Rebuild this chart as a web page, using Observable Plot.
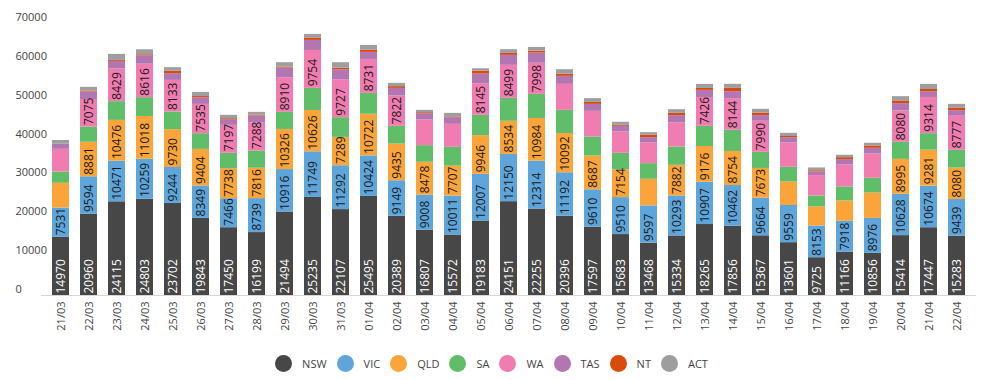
<!DOCTYPE html>
<html><head><meta charset="utf-8">
<script src="https://cdn.jsdelivr.net/npm/d3@7"></script>
<script src="https://cdn.jsdelivr.net/npm/@observablehq/plot@0.6"></script>
<style>
body{margin:0;background:#fff;font-family:"Open Sans",sans-serif;}
#legend{display:flex;justify-content:center;align-items:center;height:36px;font-size:11px;color:#444;padding-right:10px;box-sizing:border-box;width:993px}
.item{display:flex;align-items:center;margin:0 5px}
.dot{width:17px;height:17px;border-radius:50%;margin-right:10px}
</style></head><body><div id="chart"></div><div id="legend"></div>
<script>
const dates = ["21/03","22/03","23/03","24/03","25/03","26/03","27/03","28/03","29/03","30/03","31/03","01/04","02/04","03/04","04/04","05/04","06/04","07/04","08/04","09/04","10/04","11/04","12/04","13/04","14/04","15/04","16/04","17/04","18/04","19/04","20/04","21/04","22/04"];
const states = ["NSW","VIC","QLD","SA","WA","TAS","NT","ACT"];
const colors = ["#474747","#5DA5DA","#FAA43A","#60BD68","#F17CB0","#B276B2","#DA4A0E","#9E9E9E"];
const nsw = [14970,20960,24115,24803,23702,19843,17450,16199,21494,25235,22107,25495,20389,16807,15572,19183,24151,22255,20396,17597,15683,13468,15334,18265,17856,15367,13601,9725,11166,10856,15414,17447,15283];
const vic = [7531,9594,10471,10259,9244,8349,7466,8739,10916,11749,11292,10424,9149,9008,10011,12007,12150,12314,11192,9610,9510,9597,10293,10907,10462,9664,9559,8153,7918,8976,10628,10674,9439];
const qld = [6380,8881,10476,11018,9730,9404,7738,7816,10326,10626,7289,10722,9435,8478,7707,9946,8534,10984,10092,8687,7154,6840,7882,9176,8754,7673,6060,4920,5260,6560,8995,9281,8080];
const sa  = [2910,3930,4820,4830,4550,4050,3940,4440,4400,5700,5080,5380,4560,4270,4850,5230,5900,6210,5970,4900,4250,4030,4710,5190,5440,4150,3770,2830,3600,3770,4390,4250,4560];
const wa  = [5830,7075,8429,8616,8133,7535,7197,7288,8910,9754,9727,8731,7822,6600,5910,8145,8499,7998,6690,6600,5490,5310,6170,7426,8144,7990,6260,5230,5660,6260,8080,9314,8777];
const tas = [1290,1930,1940,2180,1720,1720,1460,1710,2490,2590,2610,1810,1950,1630,1710,2480,2560,2630,2060,1800,1460,1370,1890,1830,1800,1440,1370,940,1370,1460,1860,1400,1420];
const nt  = [30,250,250,250,650,300,250,250,250,600,400,550,450,250,200,750,500,500,550,500,250,600,600,500,850,650,300,300,500,600,700,650,700];
const act = [950,950,1550,1290,890,1070,860,690,1120,940,1400,1250,840,610,910,620,960,960,1160,960,780,690,940,1040,1040,980,810,730,610,690,1100,1320,930];
const yTicks = [0,10000,20000,30000,40000,50000,60000,70000];

const series = [nsw,vic,qld,sa,wa,tas,nt,act];
const rows = [];
dates.forEach((d,i)=>states.forEach((s,j)=>rows.push({date:d,state:s,value:series[j][i]})));

const ML = 41;
const plot = Plot.plot({
  width:993, height:345, marginLeft:ML, marginRight:17, marginTop:23, marginBottom:50,
  style:{fontFamily:"'Open Sans', sans-serif", fontSize:"11px", color:"#444", background:"#fff"},
  x:{domain:dates, padding:0.39, label:null},
  y:{domain:[0,70000], label:null},
  color:{domain:states, range:colors},
  marks:[
    Plot.barY(rows,{x:"date",y:"value",fill:"state"}),
    Plot.ruleY([0],{stroke:"#d6d6d6"}),
    Plot.axisX({tickSize:0,tickRotate:-90,tickPadding:6,label:null}),
    Plot.axisY({ticks:yTicks,tickSize:0,tickPadding:0,textAnchor:"start",dx:15-ML,dy:-6,tickFormat:d=>String(d),label:null}),
    Plot.text(rows,Plot.stackY1({x:"date",y:"value",z:"state",
      text:d=>(d.state==="NSW"&&d.value>=7000)?String(d.value):null,
      rotate:-90,textAnchor:"start",fill:"white",fontSize:12,dy:-2})),
    Plot.text(rows,Plot.stackY1({x:"date",y:"value",z:"state",
      text:d=>(d.state!=="NSW"&&d.value>=7000)?String(d.value):null,
      rotate:-90,textAnchor:"start",fill:"#1a1a1a",fontSize:12,dy:-2}))
  ]
});
document.getElementById("chart").appendChild(plot);

const lg = document.getElementById("legend");
states.forEach((s,i)=>{
  const it=document.createElement("div");it.className="item";
  const dot=document.createElement("span");dot.className="dot";dot.style.background=colors[i];
  const t=document.createElement("span");t.textContent=s;
  it.appendChild(dot);it.appendChild(t);lg.appendChild(it);
});
</script></body></html>
